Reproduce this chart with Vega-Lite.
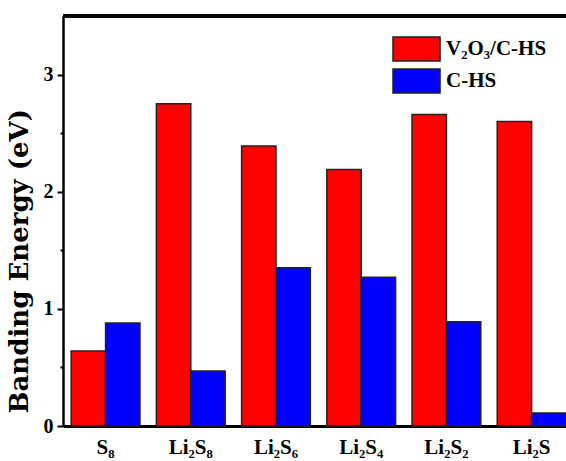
{
  "$schema": "https://vega.github.io/schema/vega-lite/v6.json",
  "width": 503,
  "height": 410,
  "autosize": {"type": "none"},
  "padding": {"left": 63, "top": 16, "right": 0, "bottom": 35},
  "background": "white",
  "config": {"view": {"stroke": null}, "font": "Liberation Serif"},
  "data": {
    "values": [
      {"species": "S₈", "material": "V₂O₃/C-HS", "energy": 0.64},
      {"species": "S₈", "material": "C-HS", "energy": 0.88},
      {"species": "Li₂S₈", "material": "V₂O₃/C-HS", "energy": 2.75},
      {"species": "Li₂S₈", "material": "C-HS", "energy": 0.47},
      {"species": "Li₂S₆", "material": "V₂O₃/C-HS", "energy": 2.39},
      {"species": "Li₂S₆", "material": "C-HS", "energy": 1.35},
      {"species": "Li₂S₄", "material": "V₂O₃/C-HS", "energy": 2.19},
      {"species": "Li₂S₄", "material": "C-HS", "energy": 1.27},
      {"species": "Li₂S₂", "material": "V₂O₃/C-HS", "energy": 2.66},
      {"species": "Li₂S₂", "material": "C-HS", "energy": 0.89},
      {"species": "Li₂S", "material": "V₂O₃/C-HS", "energy": 2.60},
      {"species": "Li₂S", "material": "C-HS", "energy": 0.11}
    ]
  },
  "layer": [
    {
      "mark": {"type": "bar", "stroke": "#222222", "strokeWidth": 1.5},
      "encoding": {
        "x": {
          "field": "species",
          "type": "nominal",
          "sort": ["S₈", "Li₂S₈", "Li₂S₆", "Li₂S₄", "Li₂S₂", "Li₂S"],
          "scale": {"paddingInner": 0.193, "paddingOuter": 0.048, "align": 1},
          "axis": {
            "title": null,
            "ticks": false,
            "domainColor": "black",
            "domainWidth": 3,
            "labelAngle": 0,
            "labelFont": "Liberation Serif",
            "labelFontSize": 21,
            "labelFontWeight": "bold",
            "labelColor": "black",
            "labelPadding": 10
          }
        },
        "xOffset": {
          "field": "material",
          "type": "nominal",
          "sort": ["V₂O₃/C-HS", "C-HS"],
          "scale": {"paddingInner": 0, "paddingOuter": 0}
        },
        "y": {
          "field": "energy",
          "type": "quantitative",
          "scale": {"domain": [0, 3.5], "nice": false},
          "axis": {
            "title": "Banding Energy (eV)",
            "titleFont": "DejaVu Serif",
            "titleFontSize": 26,
            "titleFontWeight": "bold",
            "titleColor": "black",
            "titleAnchor": "start",
            "titleBaseline": "bottom",
            "titleY": 397,
            "titleX": -31,
            "values": [0, 0.5, 1, 1.5, 2, 2.5, 3],
            "labelExpr": "datum.value % 1 === 0 ? format(datum.value, 'd') : ''",
            "tickSize": {"condition": {"test": "datum.value % 1 !== 0", "value": 3}, "value": 6},
            "tickWidth": 2,
            "tickColor": "black",
            "domainColor": "black",
            "domainWidth": 2.5,
            "labelFont": "Liberation Serif",
            "labelFontSize": 20,
            "labelFontWeight": "bold",
            "labelColor": "black",
            "labelPadding": 4,
            "grid": false
          }
        },
        "color": {
          "field": "material",
          "type": "nominal",
          "sort": ["V₂O₃/C-HS", "C-HS"],
          "scale": {"domain": ["V₂O₃/C-HS", "C-HS"], "range": ["#ff0000", "#0000ff"]},
          "legend": {
            "orient": "none",
            "legendX": 329,
            "legendY": 16,
            "title": null,
            "padding": 0,
            "symbolType": "M-1,-0.75H1.94V0.75H-1Z",
            "symbolSize": 1024,
            "symbolStrokeColor": "#222222",
            "symbolStrokeWidth": 1.5,
            "symbolOpacity": 1,
            "labelFont": "Liberation Serif",
            "labelFontSize": 21,
            "labelFontWeight": "bold",
            "labelColor": "black",
            "labelOffset": 20,
            "rowPadding": 0
          }
        }
      }
    },
    {
      "mark": {"type": "rule", "strokeWidth": 2.5, "color": "black"},
      "encoding": {"y": {"datum": 3.5}}
    }
  ]
}
